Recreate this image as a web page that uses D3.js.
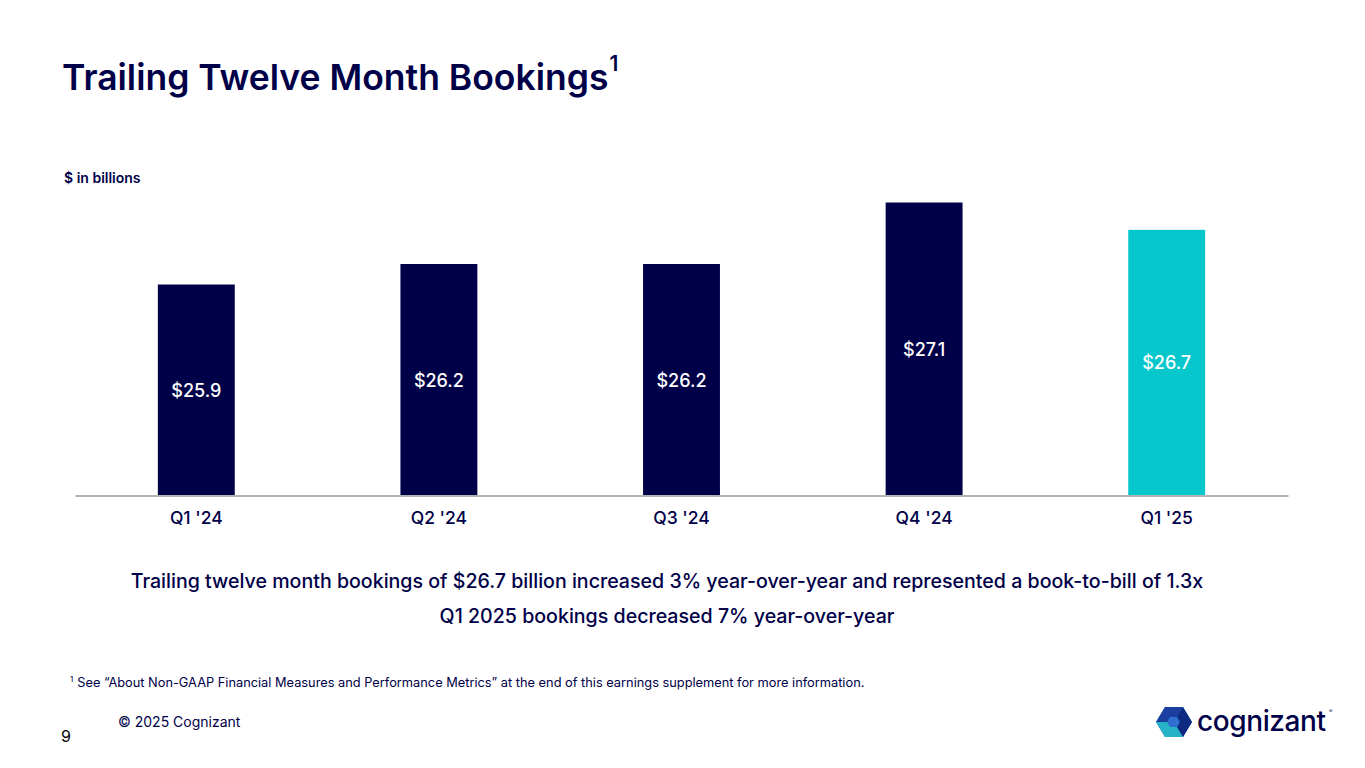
<!DOCTYPE html>
<html>
<head>
<meta charset="utf-8">
<script src="https://cdn.jsdelivr.net/npm/d3@7"></script>
<style>
  body { margin: 0; background: #fff; }
  svg { display: block; font-family: Inter, "Noto Sans", sans-serif; }
</style>
</head>
<body>
<div id="chart"></div>
<script>
// data
var quarters = ["Q1 '24", "Q2 '24", "Q3 '24", "Q4 '24", "Q1 '25"];
var bookings = [25.9, 26.2, 26.2, 27.1, 26.7];
var valueLabels = ["$25.9", "$26.2", "$26.2", "$27.1", "$26.7"];
var notes = [
    "Trailing twelve month bookings of $26.7 billion increased 3% year-over-year and represented a book-to-bill of 1.3x",
    "Q1 2025 bookings decreased 7% year-over-year"
];

var svgWidth = 1365;
var svgHeight = 768;
var navy = "#000048";
var teal = "#06C7CC";

var svg = d3.select("#chart")
    .append("svg")
    .attr("width", svgWidth)
    .attr("height", svgHeight);

// title
var title = svg.append("text")
    .attr("x", 62)
    .attr("y", 90)
    .attr("fill", navy)
    .attr("font-size", 35.5)
    .attr("font-weight", 600)
    .text("Trailing Twelve Month Bookings");
title.append("tspan")
    .attr("font-size", 21)
    .attr("dy", -19)
    .attr("dx", 1)
    .text("1");

svg.append("text")
    .attr("x", 64)
    .attr("y", 183)
    .attr("fill", navy)
    .attr("font-size", 14)
    .attr("font-weight", 600)
    .text("$ in billions");

// scales
var xScale = d3.scaleBand()
    .domain(quarters)
    .range([75, 1288])
    .paddingInner(0.683)
    .paddingOuter(0.3415);

var yScale = d3.scaleLinear()
    .domain([22.82, 27.1])
    .range([495, 202.5]);

var bars = svg.append("g");
bars.selectAll("rect")
    .data(bookings)
    .enter()
    .append("rect")
    .attr("x", (d, i) => xScale(quarters[i]))
    .attr("y", d => yScale(d))
    .attr("width", xScale.bandwidth())
    .attr("height", d => yScale.range()[0] - yScale(d))
    .attr("fill", (d, i) => i == bookings.length - 1 ? teal : navy);

bars.selectAll("text")
    .data(bookings)
    .enter()
    .append("text")
    .attr("x", (d, i) => xScale(quarters[i]) + xScale.bandwidth() / 2)
    .attr("y", d => (yScale(d) + yScale.range()[0]) / 2 + 7)
    .attr("text-anchor", "middle")
    .attr("fill", "#fff")
    .attr("font-size", 18)
    .attr("font-weight", 500)
    .text((d, i) => valueLabels[i]);

// x axis
var xAxis = svg.append("g")
    .attr("transform", "translate(0,495.5)")
    .call(d3.axisBottom(xScale).tickSize(0).tickPadding(16));
xAxis.select(".domain").attr("stroke", "#9a9a9a").attr("stroke-width", 1.5);
xAxis.selectAll("text")
    .attr("fill", navy)
    .attr("font-size", 17.5)
    .attr("font-weight", 500)
    .attr("font-family", "Inter, sans-serif");

// commentary
svg.selectAll(".note")
    .data(notes)
    .enter()
    .append("text")
    .attr("class", "note")
    .attr("x", 667)
    .attr("y", (d, i) => 588 + i * 35)
    .attr("text-anchor", "middle")
    .attr("fill", navy)
    .attr("font-size", 19.6)
    .attr("font-weight", 500)
    .text(d => d);

// footnote
var foot = svg.append("text")
    .attr("x", 70)
    .attr("y", 687)
    .attr("fill", navy)
    .attr("font-size", 12.8);
foot.append("tspan").attr("font-size", 8).attr("dy", -5).text("1");
foot.append("tspan").attr("dy", 5).attr("dx", 4)
    .text("See \u201cAbout Non-GAAP Financial Measures and Performance Metrics\u201d at the end of this earnings supplement for more information.");

svg.append("text")
    .attr("x", 118)
    .attr("y", 727)
    .attr("fill", navy)
    .attr("font-size", 14)
    .text("\u00a9 2025 Cognizant");

svg.append("text")
    .attr("x", 61)
    .attr("y", 742)
    .attr("fill", "#000")
    .attr("font-size", 16)
    .text("9");

// logo
var logo = svg.append("g").attr("transform", "translate(1174,722)");
logo.append("path")
    .attr("d", "M-18,0 L-9,-15 L9,-15 L18,0 L9,15 L-9,15 Z")
    .attr("fill", "#2E6FD0");
logo.append("path")
    .attr("d", "M-18,0 L-9,-15 L9,-15 L3,-5 L-4,-5 L-7,0 Z")
    .attr("fill", "#1a3f9e");
logo.append("path")
    .attr("d", "M-18,0 L-7,0 L-4,5 L3,5 L9,15 L-9,15 Z")
    .attr("fill", "#27b3c7");
logo.append("path")
    .attr("d", "M3,-5 L9,-15 L18,0 L9,15 L3,5 L6,0 Z")
    .attr("fill", "#0d2a80");
svg.append("text")
    .attr("x", 1197)
    .attr("y", 731)
    .attr("fill", navy)
    .attr("font-size", 28)
    .attr("font-weight", 500)
    .attr("letter-spacing", -0.4)
    .text("cognizant");
svg.append("text")
    .attr("x", 1329)
    .attr("y", 713)
    .attr("fill", navy)
    .attr("font-size", 5)
    .text("\u00ae");
</script>
</body>
</html>
